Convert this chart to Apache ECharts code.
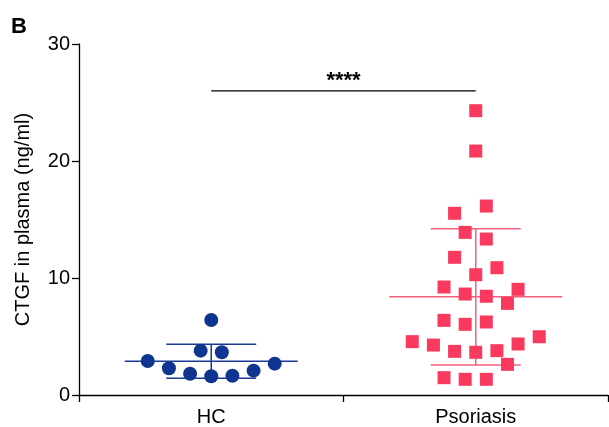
<!DOCTYPE html>
<html>
<head>
<meta charset="utf-8">
<script src="https://cdn.jsdelivr.net/npm/echarts@6/dist/echarts.min.js"></script>
<style>
html,body{margin:0;padding:0;background:#fff;}
#chart{width:609px;height:427px;}
</style>
</head>
<body>
<div id="chart"></div>
<script>
// ---- data ----
var categories = ['HC', 'Psoriasis'];
var yTicks = [0, 10, 20, 30];
var hcValues = [6.41, 3.79, 3.65, 2.90, 2.68, 2.28, 2.08, 1.82, 1.65, 1.60];
var hcJitter = [0, -1, 1, -6, 6, -4, 4, -2, 2, 0];
var psoValues = [24.3, 20.85, 16.15, 15.53, 13.9, 13.33, 11.77, 10.88, 10.28, 9.23,
                 9.03, 8.63, 8.44, 7.83, 6.38, 6.24, 6.04, 4.98, 4.56, 4.27,
                 4.36, 3.73, 3.79, 3.65, 2.62, 1.48, 1.34, 1.34];
var psoJitter = [0, 0, 1, -2, -1, 1, -2, 2, 0, -3,
                 4, -1, 1, 3, -3, 1, -1, 6, -6, -4,
                 4, -2, 2, 0, 3, -3, -1, 1];
var significance = { from: 0, to: 1, y: 26, label: '****' };

// ---- helpers ----
var JSTEP = 0.04;
function meanSd(a) {
  var m = a.reduce(function (s, v) { return s + v; }, 0) / a.length;
  var v = a.reduce(function (s, x) { return s + (x - m) * (x - m); }, 0) / (a.length - 1);
  return [m, Math.sqrt(v)];
}
function pts(vals, jit, idx) {
  return vals.map(function (v, i) { return [idx + 0.5 + jit[i] * JSTEP, v]; });
}
var groups = [hcValues, psoValues];
var stats = groups.map(function (g, i) { var s = meanSd(g); return [i + 0.5, s[0], s[1]]; });
var colors = ['#0f3590', '#f93a5e'];
var lineColors = ['#1a3a96', '#f2607c'];
var FONT = 'Liberation Sans, Arial, sans-serif';

var chart = echarts.init(document.getElementById('chart'));
chart.setOption({
  animation: false,
  backgroundColor: '#fff',
  textStyle: { fontFamily: FONT },
  graphic: [{
    type: 'text', left: 11, top: 16,
    style: { text: 'B', font: 'bold 22px "Liberation Sans", Arial, sans-serif', fill: '#000' }
  }],
  grid: { left: 79, right: 1, top: 44, bottom: 32, containLabel: false },
  xAxis: [{
    type: 'category', data: categories, boundaryGap: true,
    axisLine: { lineStyle: { color: '#000', width: 1.3 } },
    axisTick: { show: true, length: 7, lineStyle: { color: '#000', width: 1.3 } },
    axisLabel: { color: '#000', fontSize: 20, margin: 12, fontFamily: FONT },
    splitLine: { show: false }
  }, {
    type: 'value', min: 0, max: 2, show: false
  }],
  yAxis: {
    type: 'value', min: yTicks[0], max: yTicks[yTicks.length - 1], interval: 10,
    name: 'CTGF in plasma (ng/ml)', nameLocation: 'middle', nameGap: 46, nameRotate: 90,
    nameTextStyle: { color: '#000', fontSize: 20, fontFamily: FONT },
    axisLine: { show: true, lineStyle: { color: '#000', width: 1.3 } },
    axisTick: { show: true, length: 7, lineStyle: { color: '#000', width: 1.3 } },
    axisLabel: { color: '#000', fontSize: 20, margin: 9, fontFamily: FONT },
    splitLine: { show: false }
  },
  series: [{
    type: 'custom', xAxisIndex: 1, z: 1,
    data: stats,
    renderItem: function (params, api) {
      var cx = api.value(0), m = api.value(1), sd = api.value(2);
      var col = lineColors[params.dataIndex];
      var st = { stroke: col, lineWidth: 1.5 };
      function L(x1, y1, x2, y2) {
        var a = api.coord([x1, y1]), b = api.coord([x2, y2]);
        return { type: 'line', shape: { x1: a[0], y1: a[1], x2: b[0], y2: b[1] }, style: st };
      }
      return { type: 'group', children: [
        L(cx - 0.327, m, cx + 0.327, m),
        L(cx, m - sd, cx, m + sd),
        L(cx - 0.17, m + sd, cx + 0.17, m + sd),
        L(cx - 0.17, m - sd, cx + 0.17, m - sd)
      ]};
    }
  }, {
    type: 'scatter', xAxisIndex: 1, z: 3, symbol: 'circle', symbolSize: 14,
    itemStyle: { color: colors[0], opacity: 1 },
    data: pts(hcValues, hcJitter, 0)
  }, {
    type: 'scatter', xAxisIndex: 1, z: 3, symbol: 'rect', symbolSize: 13,
    itemStyle: { color: colors[1], opacity: 1 },
    data: pts(psoValues, psoJitter, 1)
  }, {
    type: 'custom', xAxisIndex: 1, z: 4,
    data: [[significance.from + 0.5, significance.y, significance.to + 0.5]],
    renderItem: function (params, api) {
      var a = api.coord([api.value(0), api.value(1)]);
      var b = api.coord([api.value(2), api.value(1)]);
      return { type: 'group', children: [
        { type: 'line', shape: { x1: a[0], y1: a[1], x2: b[0], y2: b[1] }, style: { stroke: '#000', lineWidth: 1.3 } },
        { type: 'text', x: (a[0] + b[0]) / 2, y: a[1] - 21,
          style: { text: significance.label, font: 'bold 22px "Liberation Sans", Arial, sans-serif', fill: '#000', align: 'center', verticalAlign: 'top' } }
      ]};
    }
  }]
});
</script>
</body>
</html>
